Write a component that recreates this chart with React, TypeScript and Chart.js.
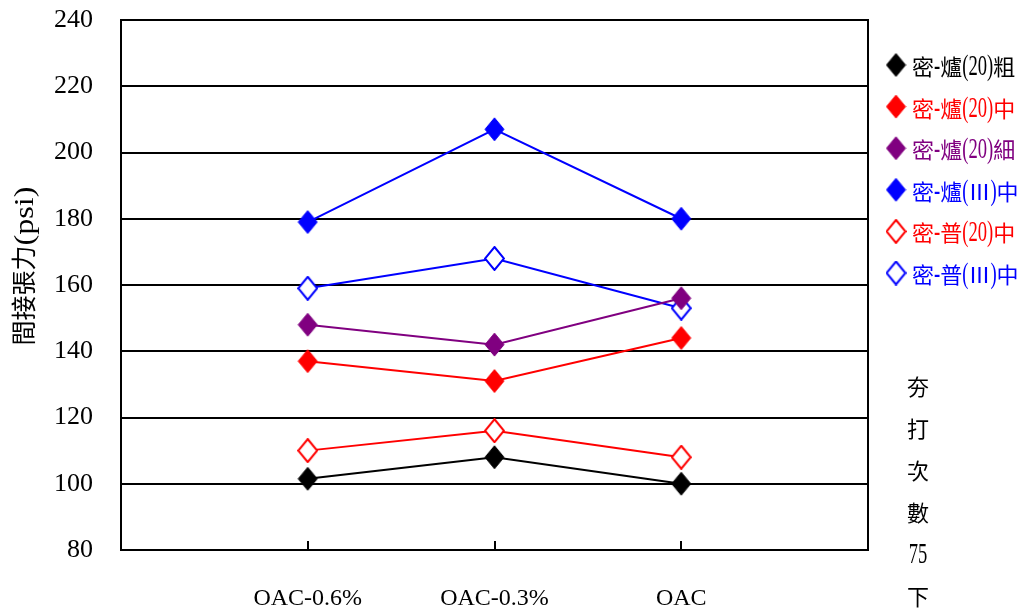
import React, { useEffect, useRef } from 'react';
import { Chart, registerables } from 'chart.js';

Chart.register(...registerables);

// ---- data ----
const categories = ['OAC-0.6%', 'OAC-0.3%', 'OAC'];
const seriesNames = ['密-爐(20)粗', '密-爐(20)中', '密-爐(20)細', '密-爐(Ⅲ)中', '密-普(20)中', '密-普(Ⅲ)中'];
const kiln20Coarse = [101.5, 108, 100];
const kiln20Medium = [137, 131, 144];
const kiln20Fine = [148, 142, 156];
const kiln3Medium = [179, 207, 180];
const plain20Medium = [110, 116, 108];
const plain3Medium = [159, 168, 153];
const yMin = 80;
const yMax = 240;
const yStep = 20;
const yTitle = '間接張力(psi)';
const sideNote = ['夯', '打', '次', '數', '75', '下'];

const seriesValues = [kiln20Coarse, kiln20Medium, kiln20Fine, kiln3Medium, plain20Medium, plain3Medium];
const seriesColors = ['#000000', '#ff0000', '#800080', '#0000ff', '#ff0000', '#0000ff'];
const seriesFilled = [true, true, true, true, false, false];

const LATIN = "'Liberation Serif', serif";
const CJK = "'Noto Sans CJK TC', sans-serif";
const FONT = "'Liberation Serif', 'Noto Sans CJK TC', serif";

const pad = (arr: number[]) => [null, ...arr, null];

function makeDiamond(color: string, filled: boolean): HTMLCanvasElement {
  const w = 21;
  const h = 25;
  const c = document.createElement('canvas');
  c.width = w;
  c.height = h;
  const g = c.getContext('2d')!;
  const cx = w / 2;
  const cy = h / 2;
  const rx = 9.5;
  const ry = 11.5;
  g.beginPath();
  g.moveTo(cx, cy - ry);
  g.lineTo(cx + rx, cy);
  g.lineTo(cx, cy + ry);
  g.lineTo(cx - rx, cy);
  g.closePath();
  g.fillStyle = filled ? color : '#ffffff';
  g.fill();
  g.lineWidth = filled ? 1 : 2;
  g.strokeStyle = color;
  g.stroke();
  return c;
}

type Run = { text: string; cjk: boolean };
function splitRuns(text: string): Run[] {
  const out: Run[] = [];
  for (const ch of text) {
    const cjk = ch.charCodeAt(0) > 0x2000;
    const last = out[out.length - 1];
    if (last && last.cjk === cjk) last.text += ch;
    else out.push({ text: ch, cjk });
  }
  return out;
}

function drawMixed(
  ctx: CanvasRenderingContext2D,
  text: string,
  x: number,
  y: number,
  o: { cjkSize: number; latinSize: number; latinScale: number; align: 'left' | 'center' }
) {
  const rs = splitRuns(text);
  const widths = rs.map((r) => {
    ctx.font = r.cjk ? `${o.cjkSize}px ${CJK}` : `${o.latinSize}px ${LATIN}`;
    return ctx.measureText(r.text).width * (r.cjk ? 1 : o.latinScale);
  });
  const total = widths.reduce((a, b) => a + b, 0);
  let cx = o.align === 'center' ? x - total / 2 : x;
  rs.forEach((r, i) => {
    ctx.save();
    ctx.font = r.cjk ? `${o.cjkSize}px ${CJK}` : `${o.latinSize}px ${LATIN}`;
    ctx.translate(cx, y);
    ctx.scale(r.cjk ? 1 : o.latinScale, 1);
    ctx.textAlign = 'left';
    ctx.textBaseline = 'alphabetic';
    ctx.fillText(r.text, 0, 0);
    ctx.restore();
    cx += widths[i];
  });
}

const decorPlugin = {
  id: 'decor',
  afterDraw(chart: any) {
    const { ctx, chartArea: a, scales } = chart;
    ctx.save();
    // frame
    ctx.strokeStyle = '#000';
    ctx.lineWidth = 2;
    ctx.strokeRect(a.left, a.top, a.right - a.left, a.bottom - a.top);
    // inner tick marks at categories
    const xs = scales.x;
    categories.forEach((_, i) => {
      const px = Math.round(xs.getPixelForValue(i + 1));
      ctx.beginPath();
      ctx.moveTo(px, a.bottom);
      ctx.lineTo(px, a.bottom - 9);
      ctx.stroke();
    });
    // legend
    chart.data.datasets.forEach((ds: any, i: number) => {
      const cy = 65 + i * 41.6;
      const img = ds.pointStyle as HTMLCanvasElement;
      ctx.drawImage(img, 896 - img.width / 2, cy - img.height / 2);
      ctx.fillStyle = ds.borderColor;
      drawMixed(ctx, ds.label, 912, cy + 10, { cjkSize: 22, latinSize: 30, latinScale: 0.62, align: 'left' });
    });
    // side note (vertical)
    ctx.fillStyle = '#000';
    sideNote.forEach((t, i) => {
      drawMixed(ctx, t, 918, 385 + i * 42 + 10, { cjkSize: 22, latinSize: 30, latinScale: 0.62, align: 'center' });
    });
    // y title
    ctx.save();
    ctx.translate(33, 266);
    ctx.rotate(-Math.PI / 2);
    drawMixed(ctx, yTitle, 0, 0, { cjkSize: 25, latinSize: 28, latinScale: 1.15, align: 'center' });
    ctx.restore();
    ctx.restore();
  },
};

export default function App() {
  const ref = useRef<HTMLCanvasElement | null>(null);

  useEffect(() => {
    document.body.style.margin = '0';
    const canvas = ref.current;
    if (!canvas) return;
    const datasets = seriesNames.map((name, i) => ({
      label: name,
      data: pad(seriesValues[i]),
      borderColor: seriesColors[i],
      backgroundColor: seriesColors[i],
      pointStyle: makeDiamond(seriesColors[i], seriesFilled[i]),
      pointRadius: 11,
      pointHoverRadius: 11,
      borderWidth: 2,
      tension: 0,
      fill: false,
    }));
    const chart = new Chart(canvas, {
      type: 'line',
      data: { labels: ['', ...categories, ''], datasets },
      options: {
        animation: false,
        responsive: false,
        events: [],
        layout: { padding: { top: 20, right: 158, bottom: 0, left: 0 } },
        plugins: { legend: { display: false }, tooltip: { enabled: false } },
        scales: {
          x: {
            offset: false,
            grid: { display: false, drawTicks: false },
            border: { display: true, color: '#000', width: 2 },
            ticks: {
              autoSkip: false,
              maxRotation: 0,
              padding: 34,
              color: '#000',
              font: { family: FONT, size: 24 },
            },
            afterFit: (s: any) => {
              s.height = 59;
              s.paddingLeft = 0;
              s.paddingRight = 0;
            },
          },
          y: {
            min: yMin,
            max: yMax,
            grid: { color: '#000', lineWidth: 2, drawTicks: false },
            border: { display: true, color: '#000', width: 2 },
            ticks: {
              stepSize: yStep,
              padding: 28,
              color: '#000',
              font: { family: FONT, size: 26 },
            },
            afterFit: (s: any) => {
              s.width = 121;
              s.paddingTop = 0;
              s.paddingBottom = 0;
            },
          },
        },
      },
      plugins: [decorPlugin],
    });
    return () => chart.destroy();
  }, []);

  return (
    <div style={{ position: 'absolute', left: 0, top: 0, width: 1026, height: 609 }}>
      <canvas ref={ref} width={1026} height={609} />
    </div>
  );
}
